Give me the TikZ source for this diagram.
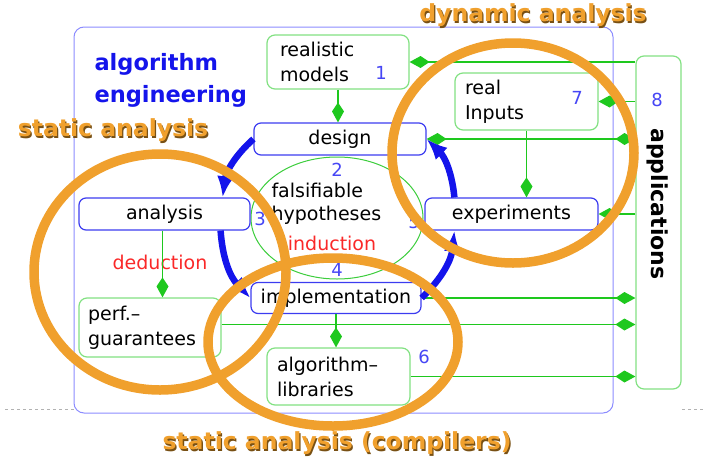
\documentclass[tikz,border=0pt]{standalone}
\usepackage{fontspec}
\setmainfont{DejaVu Sans}
\usepackage{tikz}
\usetikzlibrary{arrows.meta}

\definecolor{aeblue}{RGB}{20,20,235}
\definecolor{numblue}{RGB}{70,70,245}
\definecolor{boxblue}{RGB}{60,60,240}
\definecolor{frameblue}{RGB}{140,140,255}
\definecolor{boxgreen}{RGB}{130,225,130}
\definecolor{linegreen}{RGB}{30,200,30}
\definecolor{ellgreen}{RGB}{60,205,60}
\definecolor{ringorange}{RGB}{240,160,45}
\definecolor{shadebrown}{RGB}{120,80,20}
\definecolor{indred}{RGB}{250,40,40}

\newcommand{\shadowtxt}[1]{\rlap{\kern1.3pt\raisebox{-1.3pt}{\color{shadebrown}#1}}#1}

\begin{document}
\begin{tikzpicture}[x=1pt, y=-1pt,
    bluebox/.style={draw=boxblue, line width=1.2pt, rounded corners=7pt, fill=white,
                    minimum height=32pt, font=\fontsize{19}{22}\selectfont},
    greenbox/.style={draw=boxgreen, line width=1.2pt, rounded corners=8pt, fill=white,
                     align=left, inner xsep=10pt, text width=123pt, minimum width=143pt,
                     minimum height=57pt, font=\fontsize{19}{25}\selectfont},
    num/.style={text=numblue, font=\fontsize{18}{20}\selectfont},
    feed/.style={-{Kite[length=20pt,width=12pt,inset=9pt]}, color=linegreen, line width=1.4pt},
    cycle/.style={-{Latex[length=21pt,width=17pt]}, color=aeblue, line width=6.5pt},
    ring/.style={draw=ringorange, line width=9.5pt},
    title/.style={text=ringorange, font=\fontsize{23.5}{26}\selectfont\bfseries}
  ]
    \useasboundingbox (0,0) rectangle (703,458);

    % frame and dashed rule
    \draw[gray!60, dashed] (5,409) -- (74,409);
    \draw[gray!60, dashed] (682,409) -- (703,409);
    \draw[frameblue, line width=1pt, rounded corners=10pt] (74,27) rectangle (613,413);

    \node[anchor=west, align=left, text=aeblue, font=\fontsize{22.5}{32}\selectfont\bfseries]
      (ae) at (91,80) {algorithm\\engineering};

    % hypotheses in the middle
    \draw[ellgreen, line width=1pt] (337,218) ellipse [x radius=86, y radius=61];

    % boxes
    \node[greenbox, inner xsep=13pt, text width=116pt, minimum width=142pt, minimum height=54pt]
      (realmodels) at (338,62) {realistic\\models};
    \node[greenbox] (realinputs) at (526.5,101.5) {real\\Inputs};
    \node[bluebox, minimum width=172pt] (design) at (340,139) {design};
    \node[bluebox, minimum width=171pt] (analysis) at (164.5,214) {analysis};
    \node[bluebox, minimum width=173pt] (experiments) at (511.5,214) {experiments};
    \node[bluebox, minimum width=170pt, minimum height=31pt] (implementation) at (336,298) {implementation};
    \node[greenbox, inner xsep=9pt, text width=124pt, minimum width=142pt, minimum height=59pt]
      (perf) at (150,327.5) {perf.–\\guarantees};
    \node[greenbox] (alglib) at (338.5,376.5) {algorithm–\\libraries};
    \node[draw=boxgreen, line width=1.2pt, rounded corners=8pt, minimum width=45pt,
          minimum height=333pt] (apps) at (658.5,222.5) {};
    \node[rotate=-90, font=\fontsize{22}{24}\selectfont\bfseries] (appstext) at (658,204) {applications};

    % numbers and texts
    \node[num] (n1) at (381,73) {1};
    \node[num] (n2) at (337,170) {2};
    \node[num] (n3) at (260,219) {3};
    \node[num] (n4) at (337,270) {4};
    \node[num] (n5) at (414,222) {5};
    \node[num] (n6) at (424,357) {6};
    \node[num] (n7) at (577,98) {7};
    \node[num] (n8) at (657,100) {8};
    \node[anchor=west, align=left, font=\fontsize{19}{23}\selectfont] (hypo) at (268,204)
      {falsifiable\\hypotheses};
    \node[text=indred, font=\fontsize{19}{22}\selectfont] (induct) at (332,243) {induction};
    \node[text=indred, font=\fontsize{19}{22}\selectfont] (deduct) at (160,262) {deduction};

    % green connections
    \draw[feed] (realmodels.east -| apps.west) -- (realmodels.east);
    \draw[feed] (realinputs.east -| apps.west) -- (realinputs.east);
    \draw[feed, {Kite[length=20pt,width=12pt,inset=9pt]}-{Kite[length=20pt,width=12pt,inset=9pt]}]
      (design.east) -- (design.east -| apps.west);
    \draw[feed] (experiments.east -| apps.west) -- (experiments.east);
    \draw[feed] (implementation.east) -- (implementation.east -| apps.west);
    \draw[feed] ([yshift=3pt]perf.east) -- ([yshift=3pt]perf.east -| apps.west);
    \draw[feed] (alglib.east) -- (alglib.east -| apps.west);
    \draw[feed] (realmodels.south) -- (realmodels.south |- design.north);
    \draw[feed] (realinputs.south) -- (realinputs.south |- experiments.north);
    \draw[feed] ([xshift=-2pt]analysis.south) -- ([xshift=-2pt]analysis.south |- perf.north);
    \draw[feed] (implementation.south) -- (implementation.south |- alglib.north);

    % the cycle
    \draw[cycle] (design.west) to[bend right=20] ([xshift=-28pt]analysis.north east);
    \draw[cycle] ([xshift=-30pt]analysis.south east) to[bend right=20] (implementation.west);
    \draw[cycle] (implementation.east) to[bend right=20] ([xshift=30pt]experiments.south west);
    \draw[cycle] ([xshift=30pt]experiments.north west) to[bend right=20] (design.east);

    % analysis rings
    \draw[ring] (160,272) ellipse [x radius=126, y radius=118];
    \draw[ring] (513,153) ellipse [x radius=121, y radius=110];
    \draw[ring] (333,342) ellipse [x radius=125, y radius=84];

    \node[title] (statlbl) at (113,131) {\shadowtxt{static analysis}};
    \node[title] (dynlbl) at (533,16) {\shadowtxt{dynamic analysis}};
    \node[title] (complbl) at (337,444) {\shadowtxt{static analysis (compilers)}};
  \end{tikzpicture}
\end{document}
